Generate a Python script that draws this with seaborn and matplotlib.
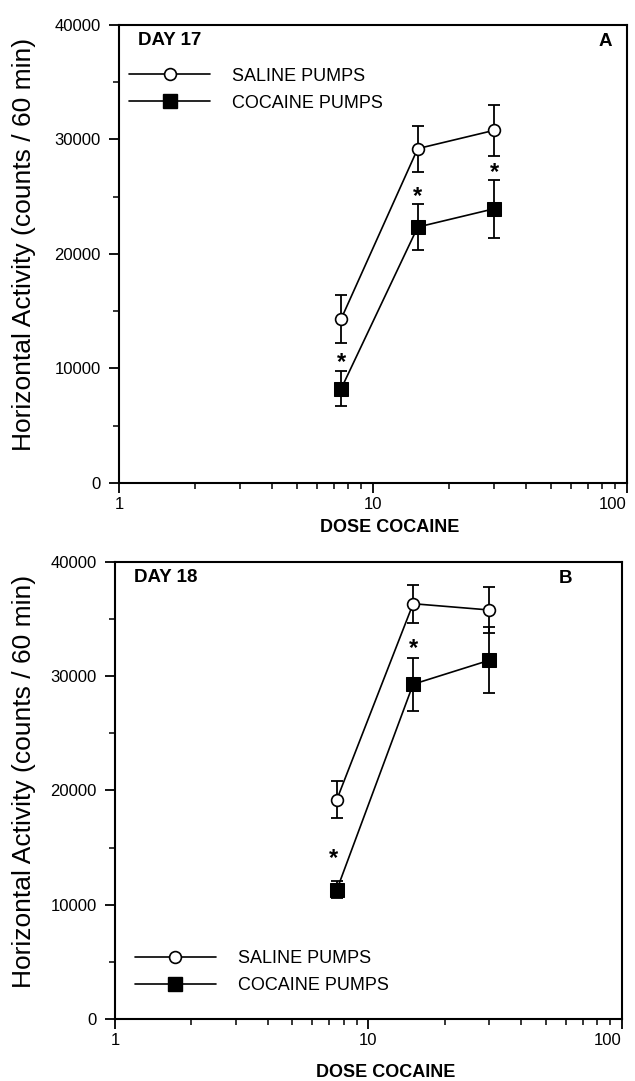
import matplotlib
matplotlib.use("Agg")
import matplotlib.pyplot as plt
from matplotlib.lines import Line2D
from matplotlib.ticker import MultipleLocator, FixedLocator, NullFormatter
import seaborn as sns
import pandas as pd


# doses of cocaine (log axis)
doses = [7.5, 15, 30]
groups = ["SALINE PUMPS", "COCAINE PUMPS"]

# day 17 means and error bar sizes
day17_saline = [14350, 29200, 30800]
day17_saline_err = [2100, 2000, 2200]
day17_cocaine = [8250, 22350, 23950]
day17_cocaine_err = [1500, 2000, 2550]
day17_star_y = [11200, 25700, 27800]

# day 18 means and error bar sizes
day18_saline = [19200, 36350, 35800]
day18_saline_err = [1650, 1650, 2000]
day18_cocaine = [11300, 29300, 31400]
day18_cocaine_err = [750, 2300, 2900]
day18_star_x = [7.3, 15]
day18_star_y = [14800, 33100]

y_ticks = [0, 10000, 20000, 30000, 40000]
x_ticks = [1, 10, 100]
x_tick_labels = ["1", "10", "100"]


sns.set_style("ticks")
plt.rcParams["font.family"] = ["Liberation Sans", "DejaVu Sans"]
plt.rcParams.update({"text.color": "black", "axes.labelcolor": "black",
                     "xtick.color": "black", "ytick.color": "black"})

STAR_SIZE = 17


def to_frame(saline, saline_err, cocaine, cocaine_err):
    rows = []
    for name, vals, errs in [(groups[0], saline, saline_err), (groups[1], cocaine, cocaine_err)]:
        for d, v, e in zip(doses, vals, errs):
            rows.append({"dose": d, "activity": v, "err": e, "group": name})
    return pd.DataFrame(rows)


def draw_panel(ax, df, star_x, star_y, day_text, letter, letter_x, legend_anchor,
               ylabel_x, xlabel_y):
    for name in groups:
        sub = df[df["group"] == name]
        ax.errorbar(sub["dose"], sub["activity"], yerr=sub["err"], fmt="none",
                    ecolor="black", elinewidth=1.3, capsize=4, capthick=1.3, zorder=2)
    sal = df[df["group"] == groups[0]]
    coc = df[df["group"] == groups[1]]
    sns.lineplot(data=sal, x="dose", y="activity", ax=ax, color="black", lw=1.2,
                 marker="o", markersize=8.5, markerfacecolor="white",
                 markeredgecolor="black", markeredgewidth=1.2, zorder=3)
    sns.lineplot(data=coc, x="dose", y="activity", ax=ax, color="black", lw=1.2,
                 marker="s", markersize=10, markerfacecolor="black",
                 markeredgecolor="black", zorder=3)

    # asterisk glyph sits high in its box, so drop it to centre it on the value
    for sx, sy in zip(star_x, star_y):
        ax.annotate("*", (sx, sy), xytext=(0, -0.62 * STAR_SIZE), textcoords="offset points",
                    ha="center", va="baseline", fontsize=STAR_SIZE, fontweight="bold")

    ax.set_xscale("log")
    ax.set_xlim(1, 100)
    ax.set_ylim(0, 40000)
    ax.xaxis.set_major_locator(FixedLocator(x_ticks))
    ax.set_xticklabels(x_tick_labels)
    ax.get_xticklabels()[-1].set_ha("right")  # keep "100" inside the figure
    ax.xaxis.set_minor_formatter(NullFormatter())
    ax.set_yticks(y_ticks)
    ax.set_yticklabels([str(t) for t in y_ticks])
    ax.yaxis.set_minor_locator(MultipleLocator(5000))
    ax.tick_params(axis="both", which="major", labelsize=12, length=7, width=1.3, direction="out")
    ax.tick_params(axis="x", which="major", pad=3)
    ax.tick_params(axis="y", which="major", pad=6)
    ax.tick_params(axis="both", which="minor", length=4, width=1.1, direction="out")
    for sp in ax.spines.values():
        sp.set_linewidth(1.5)
        sp.set_color("black")

    ax.set_xlabel("DOSE COCAINE", fontsize=13, fontweight="bold")
    ax.xaxis.label.set_va("center")
    ax.xaxis.set_label_coords(0.533, xlabel_y)
    ax.set_ylabel("Horizontal Activity (counts / 60 min)", fontsize=19)
    ax.yaxis.label.set_va("center")
    ax.yaxis.set_label_coords(ylabel_x, 0.52)

    ax.text(0.037, 0.967, day_text, transform=ax.transAxes, ha="left", va="center",
            fontsize=13.5, fontweight="bold")
    ax.text(letter_x, 0.965, letter, transform=ax.transAxes, ha="center", va="center",
            fontsize=13.5, fontweight="bold")

    handles = [
        Line2D([], [], color="black", lw=1.2, marker="o", markersize=8.5,
               markerfacecolor="white", markeredgecolor="black", markeredgewidth=1.2),
        Line2D([], [], color="black", lw=1.2, marker="s", markersize=10,
               markerfacecolor="black"),
    ]
    ax.legend(handles, groups, loc="center left", bbox_to_anchor=legend_anchor,
              frameon=False, fontsize=13, handlelength=4.5, handletextpad=1.2,
              labelspacing=0.55, numpoints=1, borderaxespad=0, borderpad=0)


fig = plt.figure(figsize=(6.35, 10.81), dpi=100)
ax_top = fig.add_axes([0.1874, 0.5532, 0.800, 0.4237])
ax_bot = fig.add_axes([0.1811, 0.0574, 0.7984, 0.4227])

df17 = to_frame(day17_saline, day17_saline_err, day17_cocaine, day17_cocaine_err)
df18 = to_frame(day18_saline, day18_saline_err, day18_cocaine, day18_cocaine_err)

draw_panel(ax_top, df17, doses, day17_star_y, "DAY 17", "A", 0.958, (0.02, 0.859),
           -0.187, -0.098)
draw_panel(ax_bot, df18, day18_star_x, day18_star_y, "DAY 18", "B", 0.888, (0.039, 0.102),
           -0.18, -0.118)

fig.savefig("out.png", dpi=100)
